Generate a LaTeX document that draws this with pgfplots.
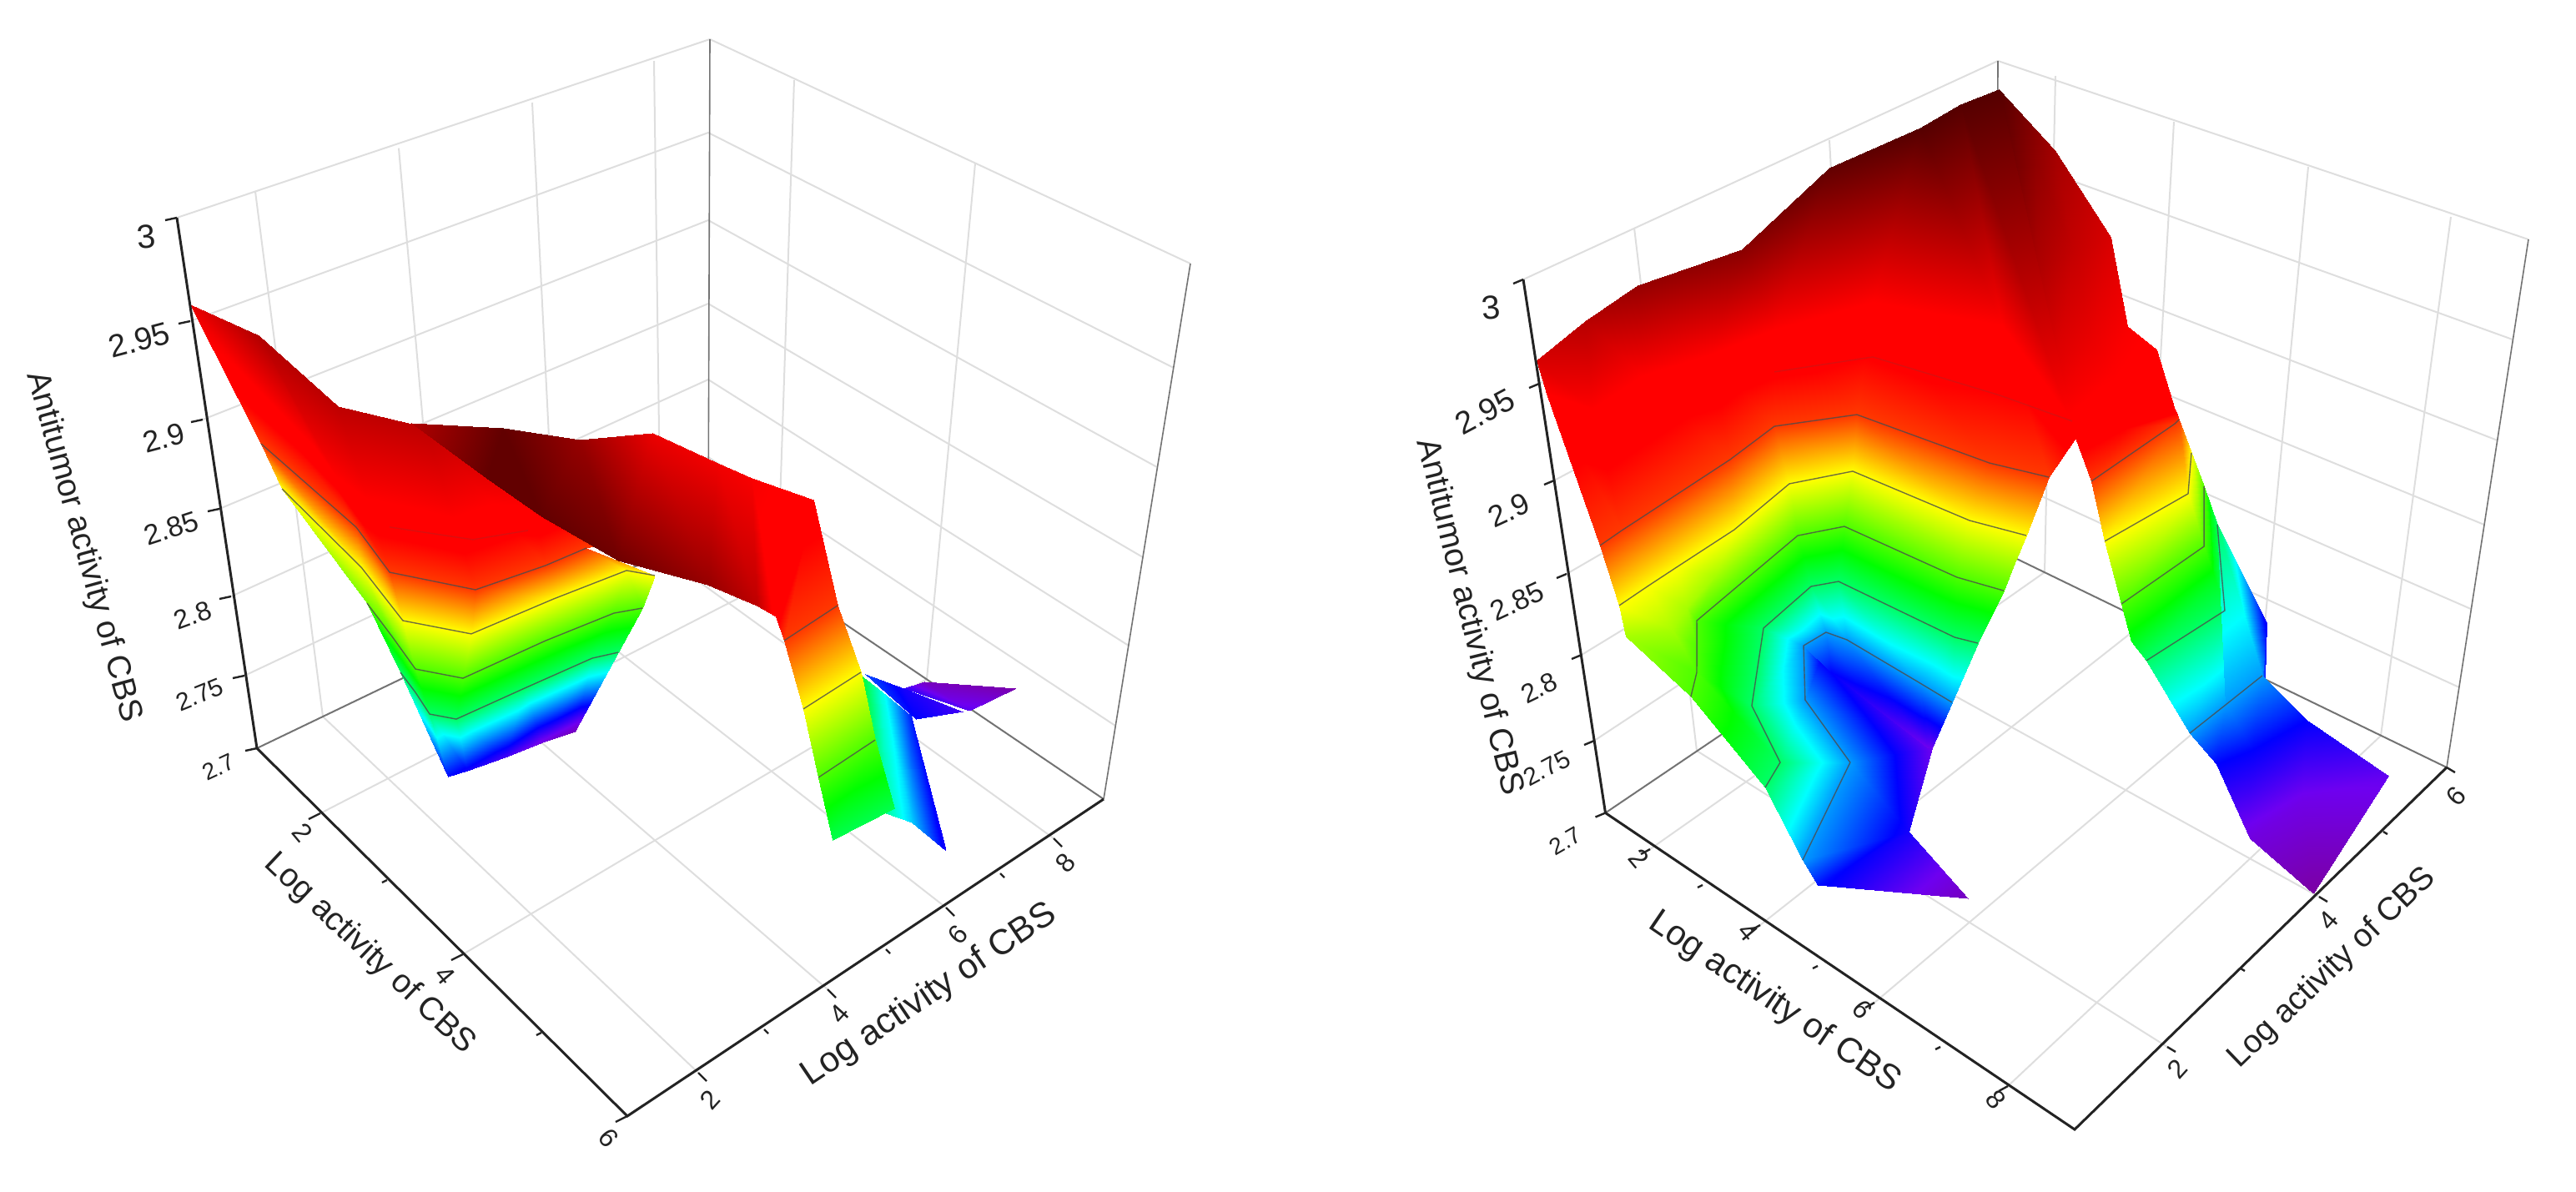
\documentclass[border=0pt]{standalone}
\usepackage{fontspec}
\setmainfont{Liberation Sans}
\usepackage{pgfplots}
\usepackage{pgfplotstable}
\pgfplotsset{compat=1.18}
\definecolor{ink}{RGB}{35,35,35}
\definecolor{gridc}{RGB}{222,222,222}
\definecolor{edgec}{RGB}{115,115,115}
\pgfplotsset{
  colormap={cbs}{rgb255(0pt)=(125,0,155); rgb255(5pt)=(110,0,240); rgb255(10pt)=(0,0,255);
    rgb255(20pt)=(0,255,255); rgb255(30pt)=(0,255,0); rgb255(40pt)=(255,255,0);
    rgb255(49pt)=(255,0,0); rgb255(51pt)=(255,0,0); rgb255(64pt)=(85,0,0)},
  cbsaxis/.style={
    anchor=origin, clip=false, colormap name=cbs, point meta min=2.7, point meta max=3.0048,
    axis line style={draw=none},
    tick pos=left,
    tick style={draw=none}, tick align=outside, major tick length=3.5pt,
    minor tick num=0, zmin=2.7, zmax=3,
    ztick={2.7,2.741,2.786,2.835,2.886,2.9415,3},
    tick label style={text=ink},
    xticklabel style={anchor=center,rotate=-50,font=\fontsize{8}{8}\selectfont},
    yticklabel style={anchor=center,rotate=48,font=\fontsize{8}{8}\selectfont},
    zticklabel style={anchor=east},
  },
  sheet/.style={surf,shader=interp,z buffer=none},
  contourline/.style={no marks,draw=black!70,draw opacity=.8,line width=.35pt,forget plot},
  faintline/.style={no marks,draw=black!70,draw opacity=.2,line width=.35pt,forget plot},
}
\newcommand\zl[3]{\rotatebox{#1}{\fontsize{#2}{#2}\selectfont #3}}
\newcommand\contourrow[3]{\addplot3[contourline,skip coords between index={0}{#2},skip coords between index={#3}{9999}] table {#1};}

% left surface, rows follow the contour levels
\pgfplotstableread{
x y z
3.025 1.906 2.748
3.025 1.906 2.748
3.025 1.906 2.748
3.000 2.238 2.743
2.937 2.903 2.733
2.798 3.639 2.719
2.736 4.220 2.7095
3.119 1.333 2.8238
3.363 1.283 2.8238
3.617 1.207 2.8238
3.802 1.424 2.8238
3.921 2.424 2.8238
4.043 3.406 2.8238
4.136 3.725 2.8238
2.903 1.191 2.8571
3.310 1.107 2.8571
3.701 1.014 2.8571
4.033 1.399 2.8571
4.175 2.609 2.8571
4.321 3.573 2.8571
4.434 3.910 2.8571
2.041 0.983 2.8905
3.107 0.989 2.8905
3.768 0.870 2.8905
4.246 1.424 2.8905
4.408 2.608 2.8905
4.571 3.624 2.8905
4.765 3.858 2.8905
2.089 0.723 2.9238
3.282 0.838 2.9238
3.830 0.720 2.9238
4.437 1.407 2.9238
4.619 2.355 2.9238
4.699 2.944 2.9238
4.699 2.944 2.9238
1.001 1.003 2.951
1.947 1.070 2.9714
2.878 1.224 2.9667
3.521 1.894 2.9667
4.314 2.576 2.9476
4.773 3.228 2.9238
4.773 3.228 2.9238
}\lTrough
\pgfplotstableread{
x y z
3.740 1.708 2.9762
4.793 1.489 3.0
5.403 1.656 3.0
6.103 2.054 2.9952
6.556 2.924 2.981
6.766 3.426 2.9667
6.507 3.942 2.9381
3.486 1.722 2.9714
4.476 2.161 3.0
4.685 3.104 2.981
4.533 4.370 2.95
5.092 4.758 2.9476
5.364 4.990 2.9452
5.760 5.497 2.9381
}\lFold
\pgfplotstableread{
x y z
6.507 3.942 2.9381
5.760 5.497 2.9381
6.522 3.998 2.9238
6.526 4.888 2.9238
6.655 4.006 2.8905
6.668 4.955 2.8905
6.765 3.973 2.8571
6.767 4.921 2.8571
6.899 3.917 2.8286
6.975 4.857 2.8286
}\lRibbon
\pgfplotstableread{
x y z
5.844 5.715 2.8381
5.505 6.341 2.8
5.106 7.112 2.7524
6.744 4.939 2.8143
6.507 5.539 2.7857
6.244 6.246 2.7429
}\lStrip
\pgfplotstableread{
x y z
4.669 6.927 2.7619
4.691 7.458 2.7429
5.084 7.200 2.7476
5.051 7.963 2.7333
}\lWingA
\pgfplotstableread{
x y z
4.615 7.530 2.7381
4.221 8.240 2.7095
5.005 8.110 2.7286
4.697 9.167 2.7048
}\lWingB

% right surface, left leg and top
\pgfplotstableread{
x y z
4.938 0.934 2.750
5.151 1.960 2.7429
4.123 3.015 2.7238
2.579 2.817 2.7476
2.826 2.769 2.7476
3.313 2.854 2.7381
4.064 2.994 2.7238
4.123 3.015 2.7238
5.081 0.715 2.7762
4.552 1.770 2.7762
3.453 2.031 2.7762
2.877 2.464 2.7762
2.965 2.696 2.7762
3.253 2.750 2.7762
4.414 2.799 2.7762
4.956 2.819 2.7762
4.960 0.482 2.8238
4.852 0.768 2.8238
3.981 1.073 2.8238
3.298 1.769 2.8238
3.346 2.370 2.8238
3.572 2.562 2.8238
5.316 2.746 2.8238
5.611 2.826 2.8238
3.977 0.380 2.8571
3.786 0.610 2.8571
3.519 0.821 2.8571
3.252 1.031 2.8571
3.390 2.278 2.8571
3.765 2.610 2.8571
5.425 2.816 2.8571
6.032 2.964 2.8571
3.054 0.295 2.8738
3.455 0.607 2.8738
3.366 0.869 2.8738
3.323 1.282 2.8738
3.433 2.250 2.8738
3.875 2.641 2.8738
5.543 2.863 2.8738
6.209 3.032 2.8738
3.020 0.294 2.8905
3.107 0.606 2.8905
3.203 0.923 2.8905
3.396 1.545 2.8905
3.476 2.221 2.8905
3.985 2.672 2.8905
5.669 2.914 2.8905
6.395 3.104 2.8905
2.910 0.244 2.9238
2.974 0.487 2.9238
3.046 0.721 2.9238
3.333 1.661 2.9238
3.435 2.175 2.9238
4.145 2.724 2.9238
5.980 3.060 2.9238
6.722 3.271 2.9238
1.207 0.939 2.9429
1.824 1.070 2.9429
1.993 1.621 2.9429
2.449 2.158 2.9429
2.837 2.716 2.9429
3.544 3.481 2.9429
5.087 4.003 2.9429
6.888 3.552 2.9381
1.064 0.971 2.9571
1.398 1.402 2.969
1.808 1.828 2.981
2.588 2.632 2.9857
2.928 3.595 3.0
3.530 4.359 3.0048
3.692 4.770 3.0048
3.921 5.100 3.0048
}\rLeft
\pgfplotstableread{
x y z
4.938 0.934 2.750
5.151 1.960 2.7429
5.732 2.176 2.7095
5.732 2.176 2.7095
}\rTip
% right leg
\pgfplotstableread{
x y z
3.921 5.100 3.0048
3.921 5.100 3.0048
3.921 5.100 3.0048
4.702 4.694 2.9905
4.607 4.990 2.9833
4.512 5.285 2.9762
5.468 4.293 2.9724
5.504 4.717 2.9643
5.568 5.133 2.9571
6.225 3.897 2.9538
6.317 4.271 2.95
6.406 4.653 2.9452
6.505 3.753 2.9471
6.680 4.219 2.9438
6.840 4.686 2.9405
6.752 3.626 2.9414
7.164 3.979 2.9395
7.595 4.329 2.9381
6.888 3.552 2.9381
7.196 3.964 2.9333
7.520 4.395 2.931
7.194 3.472 2.9238
7.440 4.399 2.9238
7.439 4.456 2.9238
7.244 3.489 2.8905
7.593 4.335 2.8905
7.205 4.685 2.8905
7.354 3.503 2.8571
7.592 4.426 2.8571
6.972 4.915 2.8571
7.441 3.500 2.8381
7.626 4.475 2.8381
6.834 5.042 2.8381
7.488 3.612 2.8238
7.761 4.450 2.8238
6.798 5.108 2.8238
7.669 3.877 2.7762
7.737 4.305 2.7762
7.805 4.744 2.7762
7.653 4.143 2.7476
7.868 4.456 2.7476
8.104 4.999 2.7476
8.152 4.092 2.719
8.344 4.656 2.7214
9.052 5.271 2.7262
9.007 4.210 2.7024
9.007 4.210 2.7024
9.052 5.271 2.7262
}\rRight
\pgfplotstableread{
x y z
6.798 5.108 2.8238
6.602 5.627 2.7429
7.805 4.744 2.7762
7.354 5.046 2.7524
}\rFlap

\begin{document}
\begin{tikzpicture}
\useasboundingbox (0,0) rectangle (772pt,-357pt);
% back walls and floor grid of both boxes, drawn in perspective
\begin{scope}[x=.25pt,y=-.25pt,line width=.5pt,draw=gridc]
  % left box: walls
  \draw (212,261)--(851,47)--(1427,316);
  \draw (306,229.5)--(387,859) (478,177.6)--(532,789) (638,123)--(668,724) (784,73)--(792,664);
  \draw (952,96)--(932,693) (1169,196)--(1111,814);
  \draw (293,810)--(849,548)--(1337,870) (277,715)--(849,455)--(1353,774) (263,610)--(849,364)--(1370,668);
  \draw (243,503)--(849,264)--(1387,560) (228,385)--(849,159)--(1407,441);
  % left box: floor
  \draw (384,975)--(932,693) (555,1144)--(1111,814);
  \draw (837,1286)--(387,859) (992,1186)--(532,789) (1134,1088)--(668,724) (1263,1005)--(792,664);
  \draw[edgec] (308,897)--(849,637)--(1323,958);
  \draw[edgec,line width=.4pt] (851,47)--(849,637) (1427,316)--(1323,958);
  % right box: walls
  \draw (1826,335)--(2395,73)--(3031,287);
  \draw (1959,273)--(2034,900) (2193,168)--(2227,770);
  \draw (2464,91)--(2451,686) (2606,146)--(2572,745) (2767,200)--(2709,811) (2938,260)--(2854,882);
  \draw (1911,888)--(2393,570)--(2948,824) (1896,785)--(2393,482)--(2962,730) (1878,688)--(2393,389)--(2978,629);
  \draw (1863,576)--(2393,295)--(2994,528) (1845,460)--(2393,184)--(3012,407);
  % right box: floor
  \draw (1978,1018)--(2451,686) (2110,1109)--(2572,745) (2247,1202)--(2709,811) (2407,1302)--(2854,882);
  \draw (2598,1255)--(2034,900) (2780,1075)--(2227,770);
  \draw[edgec] (1924.5,974.5)--(2393,658)--(2933,920);
  \draw[edgec,line width=.4pt] (2395,73)--(2393,658) (3031,287)--(2933,920);
\end{scope}

\begin{axis}[cbsaxis, at={(77pt,-224.25pt)},
  x={(22.15pt,-22.1pt)}, y={(17.875pt,11.9pt)}, z={(-80pt,530pt)},
  xmin=1, xmax=6, ymin=1, ymax=9,
  xtick={1.86,2.76,3.79,4.85,6}, xticklabels={2,,4,,6},
  ytick={2.2,3.31,4.37,5.35,6.36,7.26,8.16}, yticklabels={2,,4,,6,,8},
  zticklabels={\zl{25}{7}{2.7},\zl{22}{7.5}{2.75},\zl{20}{8}{2.8},\zl{18}{8.5}{2.85},\zl{15}{9}{2.9},\zl{15}{9.5}{2.95},\zl{5}{10}{3}},
  xticklabel style={xshift=1.85pt,yshift=-4.7pt},
  yticklabel style={xshift=-4.25pt,yshift=-5.25pt},
  zticklabel style={xshift=0.3pt,yshift=-3.7pt},
]
\addplot3[sheet,mesh/rows=2,mesh/cols=2] table {\lWingA};
\addplot3[sheet,mesh/rows=2,mesh/cols=2] table {\lWingB};
\addplot3[sheet,mesh/rows=2,mesh/cols=3] table {\lStrip};
\addplot3[sheet,mesh/rows=5,mesh/cols=2] table {\lRibbon};
\contourrow{\lRibbon}{2}{4}
\contourrow{\lRibbon}{4}{6}
\contourrow{\lRibbon}{6}{8}
\addplot3[sheet,mesh/rows=6,mesh/cols=7] table {\lTrough};
\contourrow{\lTrough}{7}{14}
\contourrow{\lTrough}{14}{21}
\contourrow{\lTrough}{21}{28}
\contourrow{\lTrough}{28}{35}
\addplot3[faintline] coordinates {(3.764,0.885,2.9429) (4.318,1.598,2.9429) (4.541,2.244,2.9429)};
\addplot3[sheet,mesh/rows=2,mesh/cols=7] table {\lFold};
\end{axis}

\begin{axis}[cbsaxis, at={(481.125pt,-243.625pt)},
  x={(17.578pt,-11.89pt)}, y={(22.3pt,21.75pt)}, z={(-82.08pt,532.92pt)},
  xmin=1, xmax=9, ymin=1, ymax=6,
  xtick={1.77,2.66,3.64,4.62,5.59,6.71,7.86}, xticklabels={2,,4,,6,,8},
  ytick={2.245,3.23,4.285,5.15,6}, yticklabels={2,,4,,6},
  zticklabels={\zl{30}{7}{2.7},\zl{28}{7.5}{2.75},\zl{26}{8}{2.8},\zl{25}{8.5}{2.85},\zl{25}{9}{2.9},\zl{28}{9.5}{2.95},\zl{5}{10}{3}},
  xticklabel style={xshift=0.8pt,yshift=-2.05pt},
  yticklabel style={xshift=-5pt,yshift=-4.5pt},
  zticklabel style={xshift=-0.5pt,yshift=-6pt},
]
\addplot3[sheet,mesh/rows=2,mesh/cols=2] table {\rFlap};
\addplot3[sheet,mesh/rows=16,mesh/cols=3] table {\rRight};
\contourrow{\rRight}{21}{24}
\contourrow{\rRight}{24}{27}
\contourrow{\rRight}{27}{30}
\contourrow{\rRight}{33}{36}
\contourrow{\rRight}{36}{39}
\addplot3[sheet,mesh/rows=9,mesh/cols=8] table {\rLeft};
\addplot3[sheet,mesh/rows=2,mesh/cols=2] table {\rTip};
\contourrow{\rLeft}{8}{16}
\contourrow{\rLeft}{16}{24}
\contourrow{\rLeft}{24}{32}
\contourrow{\rLeft}{40}{48}
\contourrow{\rLeft}{48}{56}
\addplot3[faintline] coordinates {(3.277,2.370,2.9429) (4.113,3.033,2.9429) (5.785,3.419,2.9429) (6.783,3.608,2.9429)};
\end{axis}

\begin{scope}[x=.25pt,y=-.25pt,text=ink]
  % front axis lines and their tick stubs, in perspective
  \draw[ink,line width=.75pt,line join=miter] (212,261)--(308,897)--(752,1338)--(1323,958);
  \draw[ink,line width=.75pt,line join=miter] (1826,335)--(1924.5,974.5)--(2487,1354)--(2933,920);
  \begin{scope}[draw=ink,line width=.6pt]
    \foreach \u/\v in {384/975,555/1144,752/1338} \draw (\u,\v)--++(-14,7);
    \foreach \u/\v in {464/1055,649/1238} \draw (\u,\v)--++(-6,3);
    \foreach \u/\v in {837/1286,992/1186,1134/1088,1263/1005} \draw (\u,\v)--++(10,10);
    \foreach \u/\v in {916/1234,1062/1138,1199/1047} \draw (\u,\v)--++(5,5);
    \foreach \u/\v in {308/897,293/810,277/715,263/610,243/503,228/385,212/261} \draw (\u,\v)--++(-14,3);
    \foreach \u/\v in {1978/1018,2110/1109,2247/1202,2407/1302} \draw (\u,\v)--++(-11,6);
    \foreach \u/\v in {2041/1061,2179/1158,2326/1255} \draw (\u,\v)--++(-6,3);
    \foreach \u/\v in {2598/1255,2780/1075,2933/920} \draw (\u,\v)--++(10,6);
    \foreach \u/\v in {2686/1161,2857/997} \draw (\u,\v)--++(5,3);
    \foreach \u/\v in {1924.5/974.5,1911/888,1896/785,1878/688,1863/576,1845/460,1826/335} \draw (\u,\v)--++(-12,5);
  \end{scope}
  \node[rotate=-74.6,font=\fontsize{9.8}{10}\selectfont] at (100,656) {Antitumor activity of CBS};
  \node[rotate=-43.3,font=\fontsize{9.8}{10}\selectfont] at (443,1144) {Log activity of CBS};
  \node[rotate=34,font=\fontsize{10.6}{11}\selectfont] at (1114,1193) {Log activity of CBS};
  \node[rotate=-76.2,font=\fontsize{9.9}{10}\selectfont] at (1761,740) {Antitumor activity of CBS};
  \node[rotate=-34.2,font=\fontsize{10.5}{11}\selectfont] at (2127,1202) {Log activity of CBS};
  \node[rotate=43.9,font=\fontsize{9.7}{10}\selectfont] at (2796,1161) {Log activity of CBS};
\end{scope}
\end{tikzpicture}
\end{document}
